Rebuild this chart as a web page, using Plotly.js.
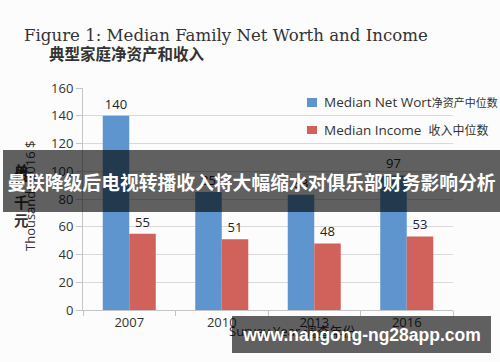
<!DOCTYPE html>
<html>
<head>
<meta charset="utf-8">
<script src="https://cdn.plot.ly/plotly-3.0.1.min.js"></script>
<style>html,body{margin:0;padding:0;background:#fcfcfc;}#chart{width:500px;height:362px;}</style>
</head>
<body>
<div id="chart"></div>
<script>
var years = ['2007', '2010', '2013', '2016'];
var netWorth = [140, 85, 83, 97];
var income = [55, 51, 48, 53];
var yTicks = [0, 20, 40, 60, 80, 100, 120, 140, 160];

var FONT = 'Open Sans, Noto Sans CJK SC, sans-serif';
var CJK = 'Noto Sans CJK SC, sans-serif';
var BLUE = '#5E95CE';
var RED = '#D0615B';

var traces = [
  {type: 'bar', name: 'Median Net Worth', x: years, y: netWorth, marker: {color: BLUE},
   text: netWorth.map(String), textposition: 'outside', cliponaxis: false,
   textfont: {family: FONT, size: 13, color: '#222'}, hoverinfo: 'skip', showlegend: false},
  {type: 'bar', name: 'Median Income', x: years, y: income, marker: {color: RED},
   text: income.map(String), textposition: 'outside', cliponaxis: false,
   textfont: {family: FONT, size: 13, color: '#222'}, hoverinfo: 'skip', showlegend: false}
];

function px(x) { return (x - 83) / 370; }
function py(y) { return (310 - y) / 222; }

var layout = {
  width: 500, height: 362,
  margin: {l: 83, r: 47, t: 88, b: 52},
  paper_bgcolor: '#fcfcfc', plot_bgcolor: '#fcfcfc',
  barmode: 'group', bargap: 0.427, bargroupgap: 0,
  showlegend: false,
  title: {text: 'Figure 1: Median Family Net Worth and Income', x: 24/500, xanchor: 'left', xref: 'container',
          y: 1 - 35.5/362, yanchor: 'middle', yref: 'container',
          font: {family: 'DejaVu Serif, serif', size: 16.6, color: '#333'}},
  xaxis: {type: 'category', showline: true, linecolor: '#c4c4c4', linewidth: 1,
          ticks: 'outside', tickson: 'boundaries', ticklen: 5, tickcolor: '#c4c4c4',
          tickfont: {family: FONT, size: 13, color: '#333'}, showgrid: false},
  yaxis: {range: [0, 160], tickvals: yTicks, showline: true, linecolor: '#c4c4c4',
          ticks: 'outside', ticklen: 6, tickcolor: '#c4c4c4', gridcolor: '#d9d9d9',
          zeroline: false, tickfont: {family: FONT, size: 13, color: '#333'}},
  shapes: [
    {type: 'rect', xref: 'paper', yref: 'paper', x0: px(307), x1: px(317), y0: py(107), y1: py(98),
     fillcolor: BLUE, line: {width: 0}},
    {type: 'rect', xref: 'paper', yref: 'paper', x0: px(307), x1: px(317), y0: py(134), y1: py(126),
     fillcolor: RED, line: {width: 0}}
  ],
  annotations: [
    {text: '典型家庭净资产和收入', xref: 'paper', yref: 'paper', x: px(47), y: py(53), xanchor: 'left', yanchor: 'middle',
     showarrow: false, font: {family: CJK, size: 15.5, color: '#333', weight: 700}},
    {text: 'Thousands 2016 $', xref: 'paper', yref: 'paper', x: px(30), y: py(196), textangle: -90,
     xanchor: 'center', yanchor: 'middle', showarrow: false, font: {family: FONT, size: 13, color: '#333'}},
    {text: '单', xref: 'paper', yref: 'paper', x: px(12), y: py(158), showarrow: false, font: {family: CJK, size: 14.5, color: '#333', weight: 700}},
    {text: '位', xref: 'paper', yref: 'paper', x: px(12), y: py(174), showarrow: false, font: {family: CJK, size: 14.5, color: '#333', weight: 700}},
    {text: '千', xref: 'paper', yref: 'paper', x: px(12), y: py(201), showarrow: false, font: {family: CJK, size: 14.5, color: '#333', weight: 700}},
    {text: '元', xref: 'paper', yref: 'paper', x: px(12), y: py(220), showarrow: false, font: {family: CJK, size: 14.5, color: '#333', weight: 700}},
    {text: 'Survey Year 调查年份', xref: 'paper', yref: 'paper', x: px(292), y: py(342), showarrow: false,
     font: {family: FONT, size: 13, color: '#333'}},
    {text: 'Median Net Wort<span style="font-size:11px">净资产中位数</span>', xref: 'paper', yref: 'paper',
     x: px(322), y: py(102), xanchor: 'left', yanchor: 'middle', showarrow: false,
     font: {family: FONT, size: 13.5, color: '#333'}},
    {text: 'Median Income  <span style="font-size:12px">收入中位数</span>', xref: 'paper', yref: 'paper',
     x: px(322), y: py(130), xanchor: 'left', yanchor: 'middle', showarrow: false,
     font: {family: FONT, size: 13.5, color: '#333'}},
    {text: '曼联降级后电视转播收入将大幅缩水对俱乐部财务影响分析', xref: 'paper', yref: 'paper',
     x: px(251.5), y: py(181), xanchor: 'center', yanchor: 'middle', width: 497, height: 62,
     bgcolor: 'rgba(0,0,0,0.62)', borderpad: 0, borderwidth: 0, showarrow: false,
     font: {family: CJK, size: 18.8, color: '#ffffff', weight: 700}},
    {text: 'www.nangong-ng28app.com', xref: 'paper', yref: 'paper',
     x: px(361.5), y: py(334.5), xanchor: 'center', yanchor: 'middle', width: 259, height: 37,
     bgcolor: 'rgba(0,0,0,0.62)', borderpad: 0, borderwidth: 0, showarrow: false,
     font: {family: 'Liberation Sans, Arial, sans-serif', size: 17.5, color: '#ffffff', weight: 700}}
  ]
};

Plotly.newPlot('chart', traces, layout, {staticPlot: true, displayModeBar: false});
</script>
</body>
</html>
